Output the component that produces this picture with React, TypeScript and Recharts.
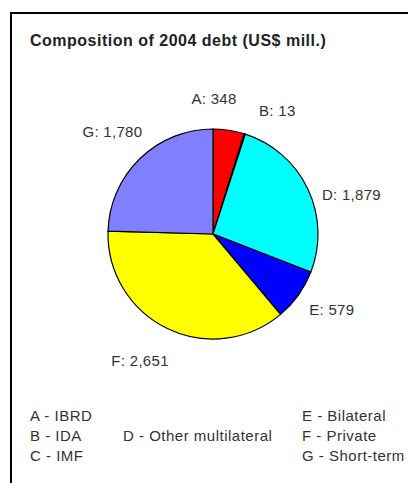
import React from 'react';
import { PieChart, Pie, Cell } from 'recharts';

const codes = ['A', 'B', 'C', 'D', 'E', 'F', 'G'];
const names = ['IBRD', 'IDA', 'IMF', 'Other multilateral', 'Bilateral', 'Private', 'Short-term'];
const values = [348, 13, 0, 1879, 579, 2651, 1780];
const title = 'Composition of 2004 debt (US$ mill.)';

const colors: Record<string, string> = {
  A: '#ff0000',
  B: '#006600',
  C: '#ffffff',
  D: '#00ffff',
  E: '#0000ff',
  F: '#ffff00',
  G: '#8080ff',
};

// label nudges (px) relative to radial position
const labelShift: Record<string, [number, number]> = {
  A: [-20, 3],
  B: [22, 10],
  C: [0, 0],
  D: [12, 21],
  E: [5, -6],
  F: [-12, 0],
  G: [-3, -2],
};

// legend slot: [column, row]
const legendSlots: [number, number][] = [[0, 0], [0, 1], [0, 2], [1, 1], [2, 0], [2, 1], [2, 2]];
const colX = [30, 123, 302];
const rowY = [406, 426, 446];

const data = codes
  .map((c, i) => ({ code: c, name: names[i], value: values[i] }))
  .filter((d) => d.value > 0);

const FONT = '"Liberation Sans", Arial, sans-serif';
const RAD = Math.PI / 180;

const renderLabel = (props: any) => {
  const { cx, cy, midAngle, outerRadius, payload } = props;
  const r = outerRadius + 35;
  const code = payload.code;
  const sh = labelShift[code] || [0, 0];
  const x = cx + r * Math.cos(-midAngle * RAD) + sh[0];
  const y = cy + r * Math.sin(-midAngle * RAD) + sh[1];
  return (
    <text
      x={x}
      y={y}
      textAnchor="middle"
      dominantBaseline="central"
      fontSize={15}
      fontFamily={FONT}
      fill="#333"
      letterSpacing={0.3}
    >
      {`${code}: ${payload.value.toLocaleString('en-US')}`}
    </text>
  );
};

export default function App() {
  return (
    <div style={{ position: 'absolute', left: 0, top: 0, width: 409, height: 483, background: '#fff', overflow: 'hidden' }}>
      <div style={{ position: 'absolute', left: 11, top: 12, width: 397, height: 2, background: '#000' }} />
      <div style={{ position: 'absolute', left: 10, top: 12, width: 2, height: 471, background: '#000' }} />
      <div
        style={{
          position: 'absolute',
          left: 30,
          top: 31,
          fontFamily: FONT,
          fontSize: 16,
          fontWeight: 'bold',
          lineHeight: '20px',
          letterSpacing: 0.5,
          color: '#222',
          whiteSpace: 'nowrap',
        }}
      >
        {title}
      </div>
      <div style={{ position: 'absolute', left: 0, top: 0 }}>
        <PieChart width={409} height={483} margin={{ top: 0, right: 0, bottom: 0, left: 0 }}>
          <Pie
            data={data}
            dataKey="value"
            nameKey="name"
            cx={213}
            cy={234}
            outerRadius={105}
            startAngle={90}
            endAngle={-270}
            stroke="#000"
            strokeWidth={1.2}
            label={renderLabel}
            labelLine={false}
            isAnimationActive={false}
          >
            {data.map((d) => (
              <Cell key={d.code} fill={colors[d.code]} />
            ))}
          </Pie>
        </PieChart>
      </div>
      {codes.map((c, i) => {
        const [col, row] = legendSlots[i];
        return (
          <div
            key={c}
            style={{
              position: 'absolute',
              left: colX[col],
              top: rowY[row],
              fontFamily: FONT,
              fontSize: 15,
              lineHeight: '20px',
              letterSpacing: 0.5,
              color: '#333',
              whiteSpace: 'nowrap',
            }}
          >
            {`${c} - ${names[i]}`}
          </div>
        );
      })}
    </div>
  );
}
